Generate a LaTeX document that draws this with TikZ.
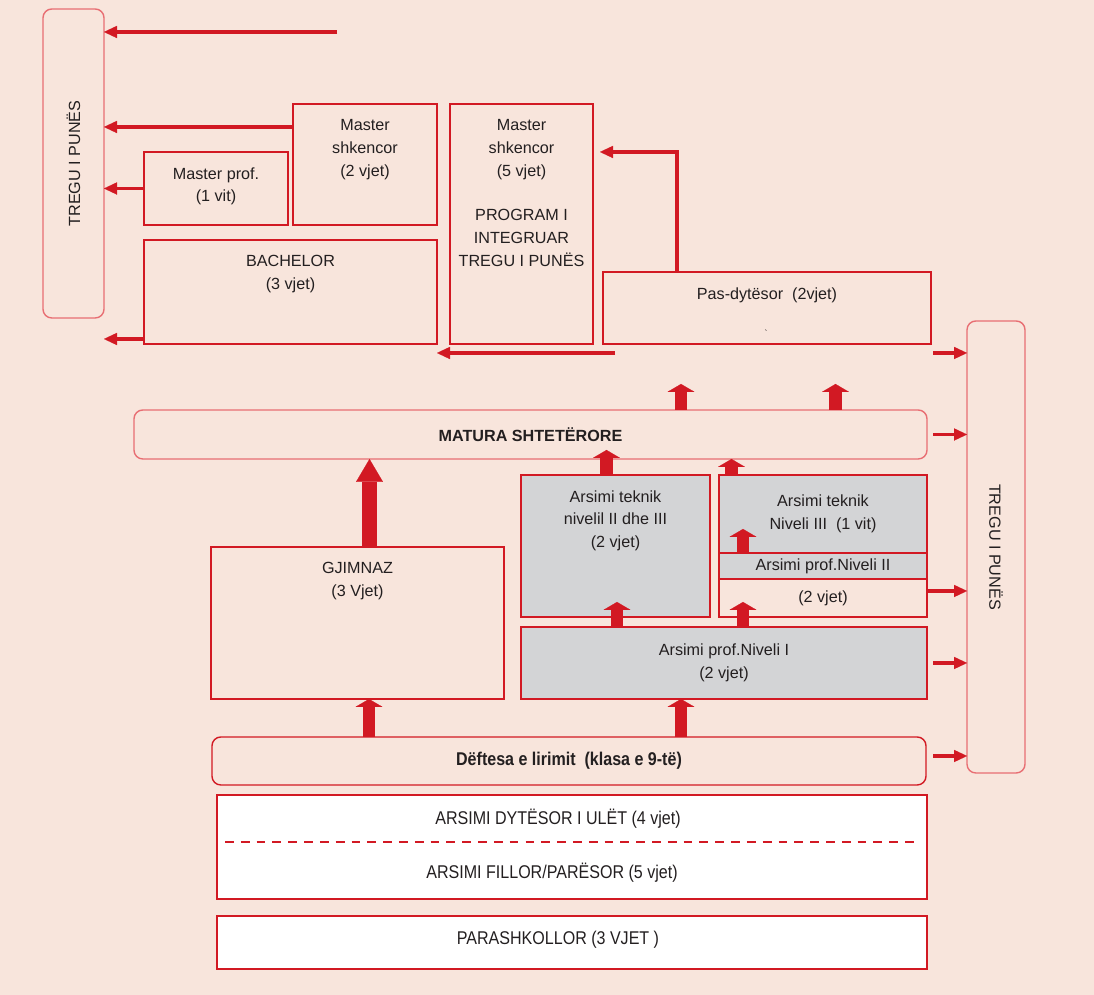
\documentclass[tikz,border=0pt]{standalone}
\usepackage{fontspec}
\setmainfont{Liberation Sans}
\newfontfamily\narrowfont[FakeStretch=0.87]{Liberation Sans}
\definecolor{mkbg}{RGB}{248,229,220}
\definecolor{mkred}{RGB}{210,25,35}
\definecolor{mkpink}{RGB}{232,110,115}
\definecolor{mkgray}{RGB}{211,212,214}
\definecolor{mktext}{RGB}{35,31,32}
\usetikzlibrary{arrows.meta,positioning,calc}

\begin{document}
\begin{tikzpicture}[
  redbox/.style={draw=mkred, line width=1.1pt, inner sep=0pt, outer sep=0pt},
  graybox/.style={redbox, fill=mkgray},
  roundbox/.style={draw=mkpink, line width=0.8pt, rounded corners=5pt, inner sep=0pt, outer sep=0pt},
  boxtxt/.style={font=\fontsize{9.2}{13}\selectfont, align=center, inner sep=0pt, text=mktext},
  narrowtxt/.style={font=\narrowfont\fontsize{10.5}{13}\selectfont, inner sep=0pt, text=mktext},
  thinarr/.style={-{Triangle[length=7.4pt,width=7pt,line width=0.1pt]}, line width=1.9pt, mkred},
  blockarr/.style={-{Triangle[length=4.5pt,width=15.3pt,line width=0.1pt]}, line width=7.2pt, mkred},
  bigarr/.style={-{Triangle[length=13pt,width=15.3pt,line width=0.1pt]}, line width=8pt, mkred}
]
  \useasboundingbox[fill=mkbg] (0,0) rectangle (21.88,19.90);

  % Labour market, left and right
  \node[roundbox, minimum width=1.22cm, minimum height=6.18cm] (tregL) at (1.47,16.63) {};
  \node[boxtxt, rotate=90] (tregLtxt) at (tregL) {TREGU I PUNËS};
  \node[roundbox, minimum width=1.16cm, minimum height=9.04cm] (tregR) at (19.92,8.96) {};
  \node[boxtxt, rotate=-90] (tregRtxt) at (tregR) {TREGU I PUNËS};

  % Higher education
  \node[redbox, minimum width=2.88cm, minimum height=1.46cm] (mp) at (4.32,16.13) {};
  \node[boxtxt, below=0.3cm of mp.north] (mptxt) {Master prof.\\(1 vit)};
  \node[redbox, minimum width=2.88cm, minimum height=2.42cm] (ms2) at (7.30,16.61) {};
  \node[boxtxt, below=0.3cm of ms2.north] (ms2txt) {Master\\shkencor\\(2 vjet)};
  \node[redbox, minimum width=5.86cm, minimum height=2.08cm] (ba) at (5.81,14.06) {};
  \node[boxtxt, below=0.3cm of ba.north] (batxt) {BACHELOR\\(3 vjet)};
  \node[redbox, minimum width=2.86cm, minimum height=4.80cm] (int) at (10.43,15.42) {};
  \node[boxtxt, below=0.3cm of int.north] (inttxt) {Master\\shkencor\\(5 vjet)\\[12.5pt]PROGRAM I\\INTEGRUAR\\TREGU I PUNËS};
  \node[redbox, minimum width=6.56cm, minimum height=1.44cm] (pas) at (15.34,13.74) {};
  \node[boxtxt, below=0.3cm of pas.north] (pastxt) {Pas-dytësor\ \ (2vjet)};
  \node[boxtxt, font=\tiny] (pasmark) at (15.32,13.24) {\textasciigrave};

  % Matura
  \node[roundbox, boxtxt, font=\bfseries\fontsize{9.2}{13}\selectfont, minimum width=15.86cm, minimum height=0.98cm] (mat) at (10.61,11.21) {MATURA SHTETËRORE};

  % Upper secondary
  \node[redbox, minimum width=5.86cm, minimum height=3.04cm] (gj) at (7.15,7.44) {};
  \node[boxtxt, below=0.3cm of gj.north] (gjtxt) {GJIMNAZ\\(3 Vjet)};
  \node[graybox, minimum width=3.78cm, minimum height=2.84cm] (tek) at (12.31,8.98) {};
  \node[boxtxt, below=0.3cm of tek.north] (tektxt) {Arsimi teknik\\nivelil II dhe III\\(2 vjet)};
  \node[graybox, boxtxt, minimum width=4.16cm, minimum height=1.56cm] (stkA) at (16.46,9.62) {Arsimi teknik\\Niveli III\ \ (1 vit)};
  \node[graybox, boxtxt, minimum width=4.16cm, minimum height=0.52cm] (stkB) at (16.46,8.58) {Arsimi prof.Niveli II};
  \node[redbox, boxtxt, minimum width=4.16cm, minimum height=0.76cm] (stkC) at (16.46,7.94) {(2 vjet)};
  \node[graybox, boxtxt, minimum width=8.12cm, minimum height=1.44cm] (prof1) at (14.48,6.64) {Arsimi prof.Niveli I\\(2 vjet)};

  % Compulsory and pre-school
  \node[roundbox, narrowtxt, draw=mkred, font=\narrowfont\bfseries\fontsize{10.5}{13}\selectfont, minimum width=14.28cm, minimum height=0.96cm] (def) at (11.38,4.68) {Dëftesa e lirimit\ \ (klasa e 9-të)};
  \node[redbox, fill=white, minimum width=14.20cm, minimum height=2.08cm] (wh1) at (11.44,2.96) {};
  \node[narrowtxt] (dyt) at (11.16,3.52) {ARSIMI DYTËSOR I ULËT (4 vjet)};
  \node[narrowtxt] (fil) at (11.04,2.44) {ARSIMI FILLOR/PARËSOR (5 vjet)};
  \draw[mkred, line width=1.4pt, dash pattern=on 5pt off 4pt] ([xshift=0.16cm,yshift=0.1cm]wh1.west) -- ([xshift=-0.2cm,yshift=0.1cm]wh1.east);
  \node[redbox, fill=white, minimum width=14.20cm, minimum height=1.06cm] (wh2) at (11.44,1.05) {};
  \node[narrowtxt] (par) at (11.16,1.10) {PARASHKOLLOR (3 VJET )};

  % Thin arrows to the labour market
  \coordinate (topA) at (6.74,19.26);
  \coordinate (msA) at ([yshift=-0.46cm]ms2.north west);
  \coordinate (baA) at ([yshift=0.1cm]ba.south west);
  \coordinate (intA) at (12.30,12.84);
  \coordinate (pasB) at (18.66,12.84);
  \draw[thinarr] (topA) -- (topA -| tregL.east);
  \draw[thinarr] (msA) -- (msA -| tregL.east);
  \draw[thinarr] (mp.west) -- (mp.west -| tregL.east);
  \draw[thinarr] (baA) -- (baA -| tregL.east);
  \draw[thinarr] (intA) -- (intA -| ba.east);
  \draw[thinarr] ([xshift=-1.8cm]pas.north) |- ([xshift=0.14cm,yshift=1.44cm]int.east);
  \draw[thinarr] (pasB) -- (pasB -| tregR.west);
  \draw[thinarr] ([xshift=0.12cm]mat.east) -- (mat.east -| tregR.west);
  \draw[thinarr] ([yshift=0.14cm]stkC.east) -- ([yshift=0.14cm]stkC.east -| tregR.west);
  \draw[thinarr] ([xshift=0.12cm]prof1.east) -- (prof1.east -| tregR.west);
  \draw[thinarr] ([xshift=0.14cm,yshift=0.1cm]def.east) -- ([yshift=0.1cm]def.east -| tregR.west);

  % Block arrows
  \draw[blockarr] ([xshift=3.01cm]mat.north) -- ++(0,0.52);
  \draw[blockarr] ([xshift=6.10cm]mat.north) -- ++(0,0.52);
  \draw[bigarr] ([xshift=0.24cm]gj.north) -- ([xshift=0.24cm]gj.north |- mat.south);
  \draw[blockarr] ([xshift=-0.18cm]tek.north) -- ++(0,0.5);
  \draw[blockarr] ([xshift=-1.83cm]stkA.north) -- ([xshift=-1.83cm]stkA.north |- mat.south);
  \draw[blockarr] ([xshift=-1.60cm]stkA.south) -- ++(0,0.48);
  \draw[blockarr] ([xshift=-2.14cm]prof1.north) -- ++(0,0.5);
  \draw[blockarr] ([xshift=0.38cm]prof1.north) -- ++(0,0.5);
  \draw[blockarr] ([xshift=-4.00cm]def.north) -- ([xshift=-4.00cm]def.north |- gj.south);
  \draw[blockarr] ([xshift=2.24cm]def.north) -- ([xshift=2.24cm]def.north |- prof1.south);
\end{tikzpicture}
\end{document}
